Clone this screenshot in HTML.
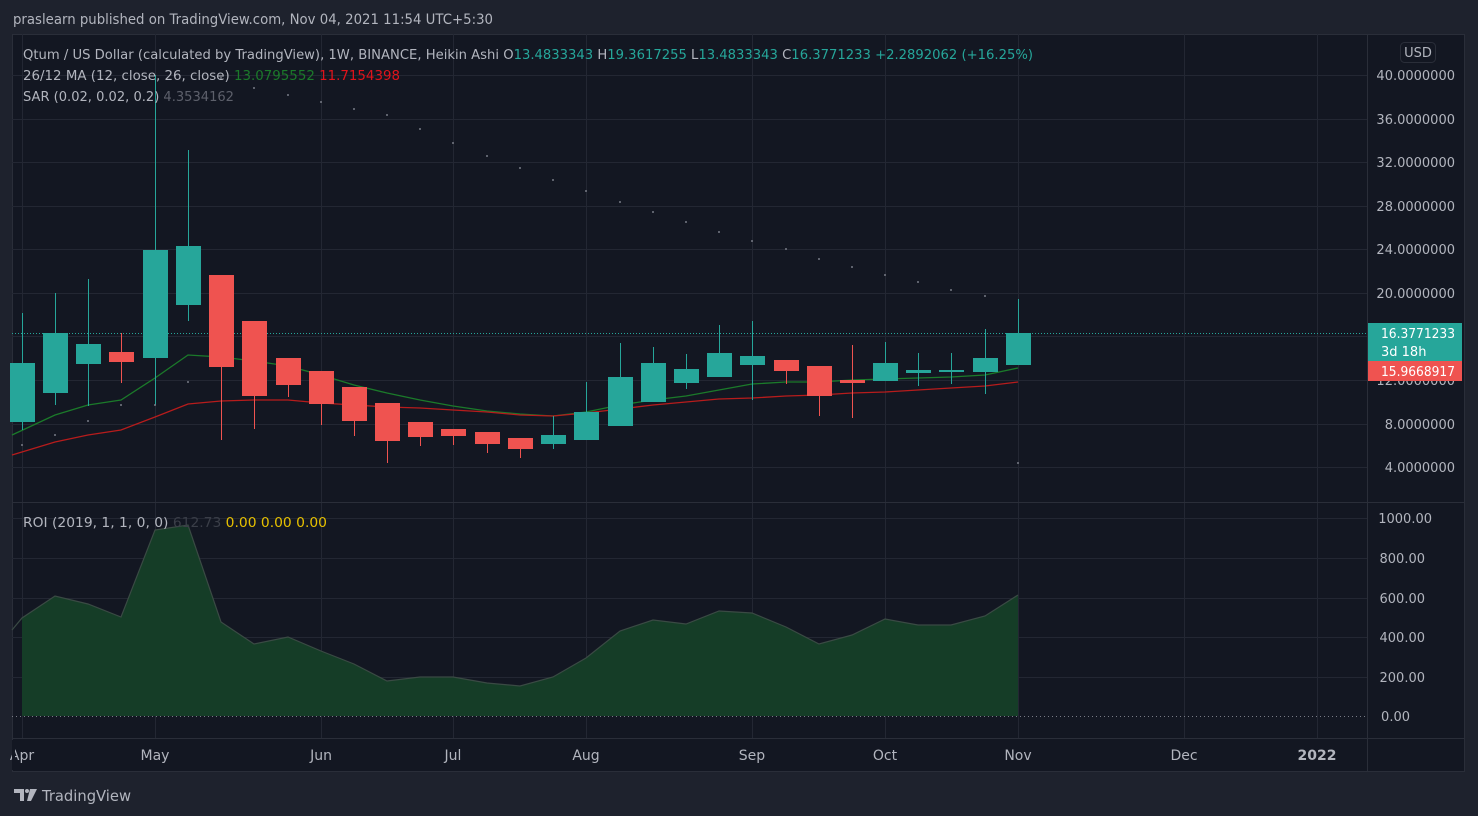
<!DOCTYPE html>
<html><head><meta charset="utf-8"><style>
body{margin:0;width:1478px;height:816px;background:#1e222d;overflow:hidden;font-family:"DejaVu Sans",sans-serif}
svg{position:absolute;left:0;top:0}
</style></head><body>
<svg width="1478" height="816" xmlns="http://www.w3.org/2000/svg" font-family="DejaVu Sans, Liberation Sans, sans-serif">
<rect x="0" y="0" width="1478" height="816" fill="#1e222d"/>
<text x="13" y="24" fill="#b2b5be" font-size="14" textLength="480" lengthAdjust="spacingAndGlyphs">praslearn published on TradingView.com, Nov 04, 2021 11:54 UTC+5:30</text>
<rect x="12.5" y="34.5" width="1452" height="737" fill="#131722" stroke="#2a2e39"/>
<g stroke="#232733" stroke-width="1">
<line x1="12" y1="75.5" x2="1367" y2="75.5"/><line x1="12" y1="119.5" x2="1367" y2="119.5"/><line x1="12" y1="162.5" x2="1367" y2="162.5"/><line x1="12" y1="206.5" x2="1367" y2="206.5"/><line x1="12" y1="249.5" x2="1367" y2="249.5"/><line x1="12" y1="293.5" x2="1367" y2="293.5"/><line x1="12" y1="336.5" x2="1367" y2="336.5"/><line x1="12" y1="380.5" x2="1367" y2="380.5"/><line x1="12" y1="424.5" x2="1367" y2="424.5"/><line x1="12" y1="467.5" x2="1367" y2="467.5"/>
<line x1="12" y1="518.5" x2="1367" y2="518.5"/><line x1="12" y1="558.5" x2="1367" y2="558.5"/><line x1="12" y1="598.5" x2="1367" y2="598.5"/><line x1="12" y1="637.5" x2="1367" y2="637.5"/><line x1="12" y1="677.5" x2="1367" y2="677.5"/>
<line x1="22.5" y1="34" x2="22.5" y2="738"/><line x1="155.5" y1="34" x2="155.5" y2="738"/><line x1="321.5" y1="34" x2="321.5" y2="738"/><line x1="453.5" y1="34" x2="453.5" y2="738"/><line x1="586.5" y1="34" x2="586.5" y2="738"/><line x1="752.5" y1="34" x2="752.5" y2="738"/><line x1="885.5" y1="34" x2="885.5" y2="738"/><line x1="1018.5" y1="34" x2="1018.5" y2="738"/><line x1="1184.5" y1="34" x2="1184.5" y2="738"/><line x1="1317.5" y1="34" x2="1317.5" y2="738"/>
</g>
<g stroke="#2a2e39"><line x1="12" y1="502.5" x2="1465" y2="502.5"/><line x1="12" y1="738.5" x2="1465" y2="738.5"/><line x1="1367.5" y1="34" x2="1367.5" y2="771"/></g>
<path d="M22,716 L22,618 L55,596 L88,604 L121,617 L155,530 L188,525 L221,622 L254,644 L288,637 L321,651 L354,664 L387,681 L420,677 L453,677 L487,683 L520,686 L553,677 L586,658 L620,631 L653,620 L686,624 L719,611 L752,613 L786,627 L819,644 L852,635 L885,619 L918,625 L951,625 L985,616 L1018,595 L1018,716 Z" fill="#153d27"/>
<path d="M12,630 L22,618 L55,596 L88,604 L121,617 L155,530 L188,525 L221,622 L254,644 L288,637 L321,651 L354,664 L387,681 L420,677 L453,677 L487,683 L520,686 L553,677 L586,658 L620,631 L653,620 L686,624 L719,611 L752,613 L786,627 L819,644 L852,635 L885,619 L918,625 L951,625 L985,616 L1018,595" fill="none" stroke="#3a4a44" stroke-width="1.2"/>
<line x1="12" y1="716.5" x2="1367" y2="716.5" stroke="#787b86" stroke-dasharray="1,3"/>
<line x1="12" y1="333.5" x2="1367" y2="333.5" stroke="#26a69a" stroke-dasharray="1,2"/>
<polyline points="12,435 55,415 88,405 121,400 155,378 188,355 221,357 254,361 288,366 321,375 354,385 387,393 420,400 453,406 487,411 520,414 553,416 586,412 620,405 653,400 686,396 719,390 752,384 786,382 819,382 852,380 885,379 918,378 951,377 985,375 1018,368" fill="none" stroke="#1b7a2a" stroke-width="1.3"/>
<polyline points="12,455 55,442 88,435 121,430 155,417 188,404 221,401 254,400 288,400 321,403 354,405 387,407 420,408 453,410 487,412 520,415 553,416 586,413 620,409 653,405 686,402 719,399 752,398 786,396 819,395 852,393 885,392 918,390 951,388 985,386 1018,382" fill="none" stroke="#b71c1c" stroke-width="1.3"/>
<g id="c"></g>
<g fill="#787b86">
<circle cx="22" cy="445" r="1"/><circle cx="55" cy="435" r="1"/><circle cx="88" cy="421" r="1"/><circle cx="121" cy="405" r="1"/><circle cx="155" cy="405" r="1"/><circle cx="188" cy="382" r="1"/><circle cx="221" cy="78" r="1"/><circle cx="254" cy="88" r="1"/><circle cx="288" cy="95" r="1"/><circle cx="321" cy="102" r="1"/><circle cx="354" cy="109" r="1"/><circle cx="387" cy="115" r="1"/><circle cx="420" cy="129" r="1"/><circle cx="453" cy="143" r="1"/><circle cx="487" cy="156" r="1"/><circle cx="520" cy="168" r="1"/><circle cx="553" cy="180" r="1"/><circle cx="586" cy="191" r="1"/><circle cx="620" cy="202" r="1"/><circle cx="653" cy="212" r="1"/><circle cx="686" cy="222" r="1"/><circle cx="719" cy="232" r="1"/><circle cx="752" cy="241" r="1"/><circle cx="786" cy="249" r="1"/><circle cx="819" cy="259" r="1"/><circle cx="852" cy="267" r="1"/><circle cx="885" cy="275" r="1"/><circle cx="918" cy="282" r="1"/><circle cx="951" cy="290" r="1"/><circle cx="985" cy="296" r="1"/><circle cx="1018" cy="463" r="1"/>
</g>
<g font-size="13" fill="#b2b5be">
<text x="23" y="59" textLength="1010" lengthAdjust="spacingAndGlyphs">Qtum / US Dollar (calculated by TradingView), 1W, BINANCE, Heikin Ashi  O<tspan fill="#26a69a">13.4833343</tspan>  H<tspan fill="#26a69a">19.3617255</tspan>  L<tspan fill="#26a69a">13.4833343</tspan>  C<tspan fill="#26a69a">16.3771233</tspan>  <tspan fill="#26a69a">+2.2892062 (+16.25%)</tspan></text>
<text x="23" y="80" textLength="377" lengthAdjust="spacingAndGlyphs">26/12 MA (12, close, 26, close)  <tspan fill="#1b7a2a">13.0795552</tspan>  <tspan fill="#e0131b">11.7154398</tspan></text>
<text x="23" y="101" textLength="211" lengthAdjust="spacingAndGlyphs">SAR (0.02, 0.02, 0.2)  <tspan fill="#5d606b">4.3534162</tspan></text>
<text x="23" y="527" textLength="304" lengthAdjust="spacingAndGlyphs">ROI (2019, 1, 1, 0, 0)  <tspan fill="#3a3e48">612.73</tspan>  <tspan fill="#e6c000">0.00</tspan>  <tspan fill="#e6c000">0.00</tspan>  <tspan fill="#e6c000">0.00</tspan></text>
</g>
<g font-size="13" fill="#b2b5be" text-anchor="end">
<text x="1455" y="80">40.0000000</text><text x="1455" y="124">36.0000000</text><text x="1455" y="167">32.0000000</text><text x="1455" y="211">28.0000000</text><text x="1455" y="254">24.0000000</text><text x="1455" y="298">20.0000000</text><text x="1455" y="385">12.0000000</text><text x="1455" y="429">8.0000000</text><text x="1455" y="472">4.0000000</text>
<text x="1432" y="523">1000.00</text><text x="1425" y="563">800.00</text><text x="1425" y="603">600.00</text><text x="1425" y="642">400.00</text><text x="1425" y="682">200.00</text><text x="1410" y="721">0.00</text>
</g>
<rect x="1400.5" y="42.5" width="35" height="20" rx="4" fill="#131722" stroke="#2a2e39"/>
<text x="1418" y="57" font-size="13" fill="#b2b5be" text-anchor="middle">USD</text>
<rect x="1368" y="323" width="94" height="38" fill="#26a69a"/>
<rect x="1368" y="361" width="94" height="20" fill="#ef5350"/>
<g font-size="13" fill="#ffffff"><text x="1381" y="338" textLength="74" lengthAdjust="spacingAndGlyphs">16.3771233</text><text x="1381" y="356">3d 18h</text><text x="1381" y="376" textLength="74" lengthAdjust="spacingAndGlyphs">15.9668917</text></g>
<g font-size="14" fill="#b2b5be" text-anchor="middle">
<text x="22" y="760">Apr</text><text x="155" y="760">May</text><text x="321" y="760">Jun</text><text x="453" y="760">Jul</text><text x="586" y="760">Aug</text><text x="752" y="760">Sep</text><text x="885" y="760">Oct</text><text x="1018" y="760">Nov</text><text x="1184" y="760">Dec</text><text x="1317" y="760" font-weight="bold">2022</text>
</g>
<rect x="12" y="740" width="3" height="30" fill="#131722"/>
<g fill="#b2b5be"><path d="M14,789 h10 v12 h-4 v-8 h-6z"/><circle cx="27" cy="791" r="2"/><path d="M30,789 h7 l-6,12 h-4z"/></g>
<text x="42" y="801" font-size="15" fill="#b2b5be" textLength="89" lengthAdjust="spacingAndGlyphs">TradingView</text>
</svg>
<script>
var d=[[22,363,422,313,430,1],[55,333,393,293,405,1],[88,344,364,279,406,1],[121,352,362,333,383,0],[155,250,358,75,405,1],[188,246,305,150,321,1],[221,275,367,275,440,0],[254,321,396,321,429,0],[288,358,385,358,397,0],[321,371,404,371,425,0],[354,387,421,387,436,0],[387,403,441,403,463,0],[420,422,437,422,446,0],[453,429,436,429,445,0],[487,432,444,432,453,0],[520,438,449,438,458,0],[553,435,444,416,449,1],[586,412,440,382,440,1],[620,377,426,343,426,1],[653,363,402,347,402,1],[686,369,383,354,389,1],[719,353,377,325,377,1],[752,356,365,321,400,1],[786,360,371,360,384,0],[819,366,396,366,416,0],[852,380,383,345,418,0],[885,363,381,342,381,1],[918,370,373,353,386,1],[951,370,372,353,384,1],[985,358,372,329,394,1],[1018,333,365,299,365,1]];
var g=document.getElementById('c'),s='';
d.forEach(function(c){var col=c[5]?'#26a69a':'#ef5350';
s+='<line x1="'+(c[0]+.5)+'" x2="'+(c[0]+.5)+'" y1="'+c[3]+'" y2="'+c[4]+'" stroke="'+col+'"/>';
s+='<rect x="'+(c[0]-12)+'" y="'+c[1]+'" width="25" height="'+Math.max(2,c[2]-c[1])+'" fill="'+col+'"/>';});
g.innerHTML=s;
</script>
</body></html>
